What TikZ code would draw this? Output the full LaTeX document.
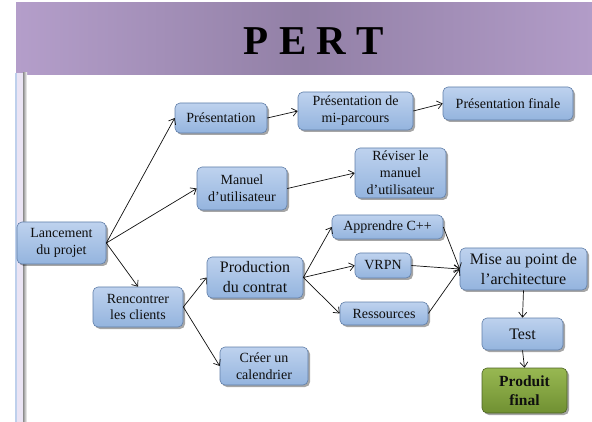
\documentclass[tikz,border=0pt]{standalone}
\usepackage{fontspec}
\setmainfont{Liberation Serif}
\usetikzlibrary{arrows.meta,shadows}

\definecolor{bandL}{RGB}{180,158,202}
\definecolor{bandM}{RGB}{146,128,166}
\definecolor{bandR}{RGB}{178,156,200}
\definecolor{boxTop}{RGB}{190,210,238}
\definecolor{boxBot}{RGB}{148,180,222}
\definecolor{boxEdge}{RGB}{96,126,168}
\definecolor{greenTop}{RGB}{152,184,82}
\definecolor{greenBot}{RGB}{112,144,50}
\definecolor{greenEdge}{RGB}{76,98,36}
\definecolor{barLav}{RGB}{234,228,244}
\definecolor{barBlue}{RGB}{190,208,236}
\definecolor{ink}{RGB}{15,15,15}

\tikzset{
  task/.style={draw=boxEdge, line width=0.6pt, rounded corners=5pt,
    top color=boxTop, bottom color=boxBot, inner sep=0pt,
    align=center, text=ink,
    font=\fontsize{14}{16.8}\selectfont,
    drop shadow={shadow xshift=2pt, shadow yshift=-2pt, opacity=0.35, fill=black}},
  bigtask/.style={task, font=\fontsize{16}{20}\selectfont},
  goal/.style={task, draw=greenEdge, top color=greenTop, bottom color=greenBot,
    font=\fontsize{15.5}{18.5}\selectfont\bfseries},
  link/.style={draw=ink, line width=0.7pt,
    -{Straight Barb[length=5pt,width=8pt,line width=0.7pt]}}
}

\begin{document}
\begin{tikzpicture}[x=1pt,y=-1pt]
  \useasboundingbox (0,0) rectangle (592,422);

  % title band
  \shade[left color=bandL, right color=bandR, middle color=bandM]
    (16,3) rectangle (592,75);
  \node (title) at (314,41) {\fontsize{41}{41}\selectfont\bfseries P E R T};

  % side rule
  \fill[barBlue] (15,73) rectangle (17,422);
  \fill[barLav] (17,73) rectangle (23,422);
  \shade[left color=black!45, right color=white] (23,73) rectangle (27,422);

  % tasks
  \node[task, minimum width=89pt, minimum height=42pt] (lanc) at (61.5,243)
    {Lancement\\du projet};
  \node[task, minimum width=92pt, minimum height=30pt] (pres) at (221,118)
    {Présentation};
  \node[task, minimum width=115pt, minimum height=38pt] (mipar) at (355.5,111)
    {Présentation de\\mi-parcours};
  \node[task, minimum width=130pt, minimum height=33pt] (finale) at (508,103.5)
    {Présentation finale};
  \node[task, minimum width=90pt, minimum height=43pt] (manuel) at (242,188.5)
    {Manuel\\d’utilisateur};
  \node[task, minimum width=91pt, minimum height=50pt] (reviser) at (400.5,173)
    {Réviser le\\manuel\\d’utilisateur};
  \node[task, minimum width=90pt, minimum height=40pt] (renc) at (138,307)
    {Rencontrer\\les clients};
  \node[bigtask, minimum width=96pt, minimum height=41pt] (prod) at (255,277.5)
    {Production\\du contrat};
  \node[task, minimum width=88pt, minimum height=38pt] (creer) at (264,366)
    {Créer un\\calendrier};
  \node[task, minimum width=111pt, minimum height=24pt] (appr) at (387.5,227)
    {Apprendre C++};
  \node[task, minimum width=56pt, minimum height=25pt] (vrpn) at (383,265.5)
    {VRPN};
  \node[task, minimum width=88pt, minimum height=23pt] (ress) at (384,313.5)
    {Ressources};
  \node[bigtask, minimum width=127pt, minimum height=42pt] (mise) at (523.5,269)
    {Mise au point de\\l’architecture};
  \node[bigtask, minimum width=81pt, minimum height=32pt] (test) at (522.5,334)
    {Test};
  \node[goal, minimum width=85pt, minimum height=45pt] (prodfin) at (524.5,390.5)
    {Produit\\final};

  % dependencies
  \draw[link] (lanc.east) -- (pres.west);
  \draw[link] (lanc.east) -- (manuel.west);
  \draw[link] (lanc.east) -- (renc.north);
  \draw[link] (pres.east) -- (mipar.west);
  \draw[link] (mipar.east) -- (finale.west);
  \draw[link] (manuel.east) -- (reviser.west);
  \draw[link] (renc.east) -- (prod.west);
  \draw[link] (renc.east) -- (creer.west);
  \draw[link] (prod.east) -- (appr.west);
  \draw[link] (prod.east) -- (vrpn.west);
  \draw[link] (prod.east) -- (ress.west);
  \draw[link] (appr.east) -- (mise.west);
  \draw[link] (vrpn.east) -- (mise.west);
  \draw[link] (ress.east) -- (mise.west);
  \draw[link] (mise.south) -- (test.north);
  \draw[link] (test.south) -- (prodfin.north);
\end{tikzpicture}
\end{document}
